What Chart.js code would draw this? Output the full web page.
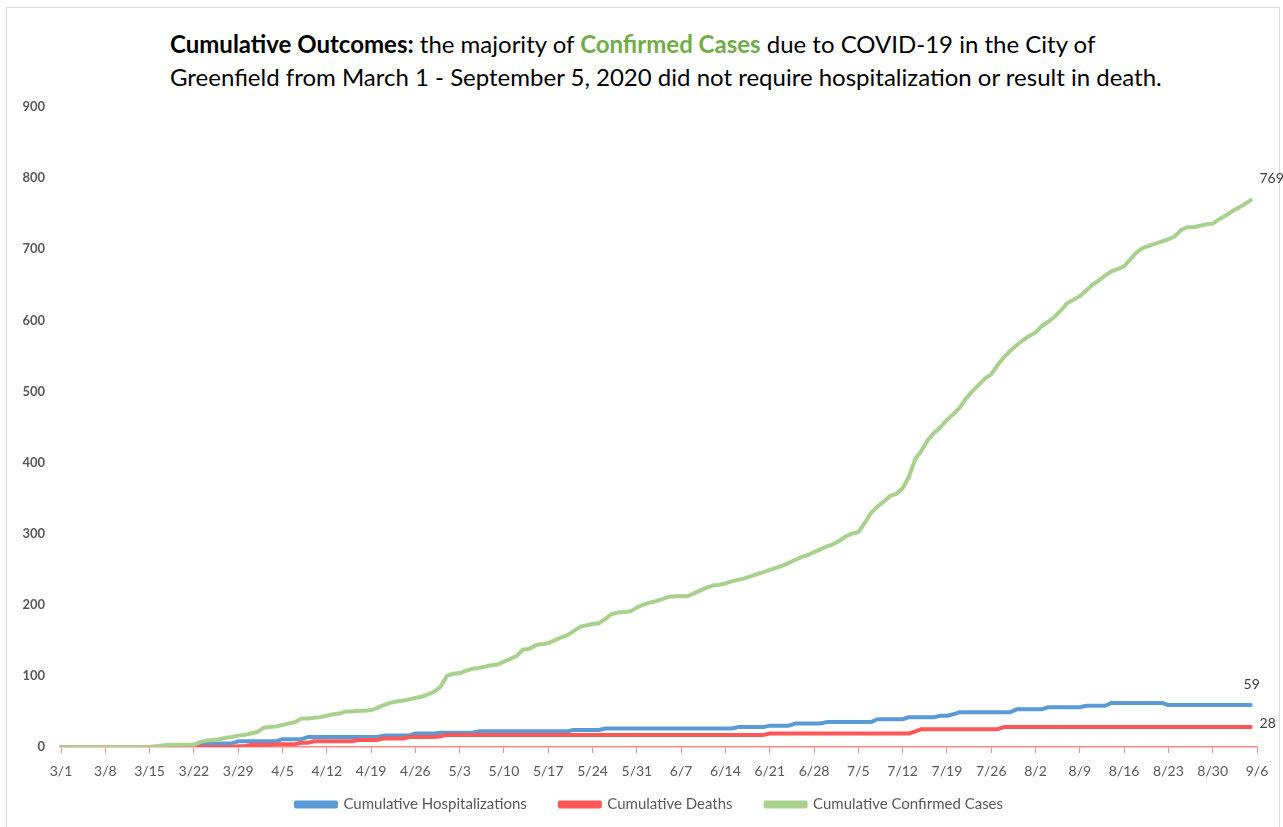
<!DOCTYPE html>
<html>
<head>
<meta charset="utf-8">
<script src="https://cdn.jsdelivr.net/npm/chart.js@4.4.1/dist/chart.umd.min.js"></script>
<style>
  body { margin: 0; background: #fff; }
  #wrap { position: relative; width: 1283px; height: 827px; overflow: hidden; }
  #frame { position: absolute; left: 6px; top: 7px; width: 1272px; height: 840px; border: 1px solid #d9d9d9; }
  #titulo { position: absolute; left: 170px; top: 27px; font-family: Lato, sans-serif; font-size: 24px; line-height: 33px; color: #000; white-space: nowrap; }
  #titulo b { font-weight: bold; }
  #titulo .verde { color: #70ad47; font-weight: bold; }
  canvas { position: absolute; left: 0; top: 0; }
</style>
</head>
<body>
<div id="wrap">
  <div id="frame"></div>
  <div id="titulo"><b>Cumulative Outcomes:</b> the majority of <span class="verde">Confirmed Cases</span> due to COVID-19 in the City of<br>Greenfield from March 1 - September 5, 2020 did not require hospitalization or result in death.</div>
  <canvas id="myChart" width="1283" height="827"></canvas>
</div>
<script>
// Datos (valores diarios, 3/1 a 9/5)
const fechaInicio = new Date(2020, 2, 1);
const numDias = 190; // 3/1 ... 9/6 en el eje
const dias = [];
for (let i = 0; i < numDias; i++) {
    let f = new Date(fechaInicio.getTime());
    f.setDate(f.getDate() + i);
    dias.push((f.getMonth() + 1) + '/' + f.getDate());
}

const hospitalizaciones = [
    0,0,0,0,0,0,0,0,0,0, 0,0,0,0,0,0,0,0,0,0, 0,0,3,5,5,5,5,5,8,8,
    8,8,8,8,8,11,11,11,11,14, 14,14,14,14,14,14,14,14,14,14, 14,16,16,16,16,16,19,19,19,19,
    20,20,20,20,20,20,22,22,22,22, 22,22,22,22,22,22,22,22,22,22, 22,24,24,24,24,24,26,26,26,26,
    26,26,26,26,26,26,26,26,26,26, 26,26,26,26,26,26,26,28,28,28, 28,28,30,30,30,30,33,33,33,33,
    33,35,35,35,35,35,35,35,35,39, 39,39,39,39,42,42,42,42,42,44, 44,46,49,49,49,49,49,49,49,49,
    49,53,53,53,53,53,56,56,56,56, 56,56,58,58,58,58,62,62,62,62, 62,62,62,62,62,59,59,59,59,59,
    59,59,59,59,59,59,59,59,59
];

const muertes = [
    0,0,0,0,0,0,0,0,0,0, 0,0,0,0,0,0,0,0,0,0, 0,0,0,0,0,0,0,0,1,1,
    3,3,3,3,4,4,4,4,6,6, 8,8,8,8,8,8,8,10,10,10, 10,12,12,12,12,14,14,14,14,14,
    15,17,17,17,17,17,17,17,17,17, 17,17,17,17,17,17,17,17,17,17, 17,17,17,17,17,17,17,17,17,17,
    17,17,17,17,17,17,17,17,17,17, 17,17,17,17,17,17,17,17,17,17, 17,17,19,19,19,19,19,19,19,19,
    19,19,19,19,19,19,19,19,19,19, 19,19,19,19,19,22,25,25,25,25, 25,25,25,25,25,25,25,25,25,28,
    28,28,28,28,28,28,28,28,28,28, 28,28,28,28,28,28,28,28,28,28, 28,28,28,28,28,28,28,28,28,28,
    28,28,28,28,28,28,28,28,28
];

const casosConfirmados = [
    0,0,0,0,0,0,0,0,0,0, 0,0,0,0,0,1,2,3,3,3, 3,3,
    7,9,10,11,13,14,16,17,19,21,
    27,28,29,31,33,35,40,40,41,42,
    44,46,47,50,50,51,51,52,55,59,
    62,64,65,67,69,71,74,78,85,100,
    103,104,107,110,111,113,115,116,120,124,
    128,137,138,143,145,146,150,154,157,163,
    169,171,173,174,180,187,189,190,191,196,
    200,203,205,208,211,212,212,212,216,220,
    224,227,228,230,233,235,237,240,243,246,
    249,252,255,259,263,267,270,274,278,282,
    285,290,296,300,302,315,329,338,345,353,
    356,364,380,405,417,432,442,450,460,468,
    477,490,500,509,518,524,537,548,557,565,
    572,578,583,592,598,605,614,624,629,634,
    642,650,656,663,669,672,676,686,696,702,
    705,708,711,714,718,727,731,731,733,735,
    736,742,747,753,758,763,769
];

const nombresSeries = ['Cumulative Hospitalizations', 'Cumulative Deaths', 'Cumulative Confirmed Cases'];
const coloresSeries = ['#5b9bd5', '#ff5757', '#a9d18e'];

// desplazamiento de la etiqueta del ultimo punto de cada serie
const offsetsEtiquetas = [[1, -21], [17, -4], [21, -22]];

const COLOR_EJE = '#ff8a8a';
const COLOR_TEXTO = '#595959';
const FUENTE_LEYENDA = '15px Lato';
const DESPLAZAR_LEYENDA = 21;

const etiquetasFinales = {
    id: 'etiquetasFinales',
    afterLayout(chart) {
        // la leyenda del original esta centrada en todo el ancho, no solo en el area de la grafica
        chart.legend.left += DESPLAZAR_LEYENDA;
        chart.legend.right += DESPLAZAR_LEYENDA;
    },
    afterDatasetsDraw(chart) {
        const ctx = chart.ctx;
        chart.data.datasets.forEach(function(ds, i) {
            let k = ds.data.length - 1;
            while (k >= 0 && ds.data[k] == null) k--;
            const pt = chart.getDatasetMeta(i).data[k];
            ctx.save();
            ctx.font = '14px Lato, sans-serif';
            ctx.fillStyle = '#404040';
            ctx.textAlign = 'center';
            ctx.textBaseline = 'middle';
            ctx.fillText(String(ds.data[k]), pt.x + offsetsEtiquetas[i][0], pt.y + offsetsEtiquetas[i][1]);
            ctx.restore();
        });
    }
};

// espacios al final del texto de la leyenda para separar los items (el padding tambien es vertical)
function relleno(px) {
    const c = document.createElement('canvas').getContext('2d');
    c.font = FUENTE_LEYENDA;
    const w = c.measureText(' ').width || 4;
    return ' '.repeat(Math.round(px / w));
}
const espacioLeyenda = relleno(23);

function serie(i, valores, orden) {
    return {
        label: nombresSeries[i],
        data: valores,
        borderColor: coloresSeries[i],
        backgroundColor: coloresSeries[i],
        borderWidth: 4,
        pointRadius: 0,
        tension: 0,
        fill: false,
        borderJoinStyle: 'round',
        borderCapStyle: 'round',
        order: orden
    };
}

let data = {
    labels: dias,
    datasets: [
        serie(0, hospitalizaciones, 3),
        serie(1, muertes, 2),
        serie(2, casosConfirmados, 1)
    ]
};

let config = {
    type: 'line',
    data: data,
    plugins: [etiquetasFinales],
    options: {
        responsive: false,
        animation: false,
        layout: {
            padding: { left: 0, top: 107, right: 26, bottom: 5 }
        },
        plugins: {
            legend: {
                position: 'bottom',
                labels: {
                    boxWidth: 40,
                    boxHeight: 4,
                    padding: 10,
                    color: COLOR_TEXTO,
                    font: { family: 'Lato', size: 15 },
                    sort: function(a, b) { return a.datasetIndex - b.datasetIndex; },
                    generateLabels: function(chart) {
                        let items = Chart.defaults.plugins.legend.labels.generateLabels(chart);
                        items.forEach(function(it) {
                            if (it.datasetIndex < 2) it.text = it.text + espacioLeyenda;
                        });
                        return items;
                    }
                }
            },
            tooltip: { enabled: false }
        },
        scales: {
            x: {
                offset: false,
                afterFit: function(scale) { scale.height = 40; },
                border: { display: true, color: COLOR_EJE, width: 1.5 },
                grid: {
                    drawOnChartArea: false,
                    drawTicks: true,
                    tickLength: 6,
                    tickColor: function(c) { return c.index % 7 === 0 ? COLOR_EJE : 'rgba(0,0,0,0)'; }
                },
                ticks: {
                    autoSkip: false,
                    maxRotation: 0,
                    padding: 10,
                    color: COLOR_TEXTO,
                    font: { family: 'Lato', size: 14 },
                    callback: function(v, i) { return i % 7 === 0 ? dias[i] : ''; }
                }
            },
            y: {
                min: 0,
                max: 900,
                afterFit: function(scale) { scale.width = 61; },
                border: { display: false },
                grid: { display: false, drawTicks: false },
                ticks: {
                    stepSize: 100,
                    padding: 16,
                    color: COLOR_TEXTO,
                    font: { family: 'Lato', size: 13, weight: 'bold' }
                }
            }
        }
    }
};

const myChart = new Chart(document.getElementById('myChart'), config);
</script>
</body>
</html>
